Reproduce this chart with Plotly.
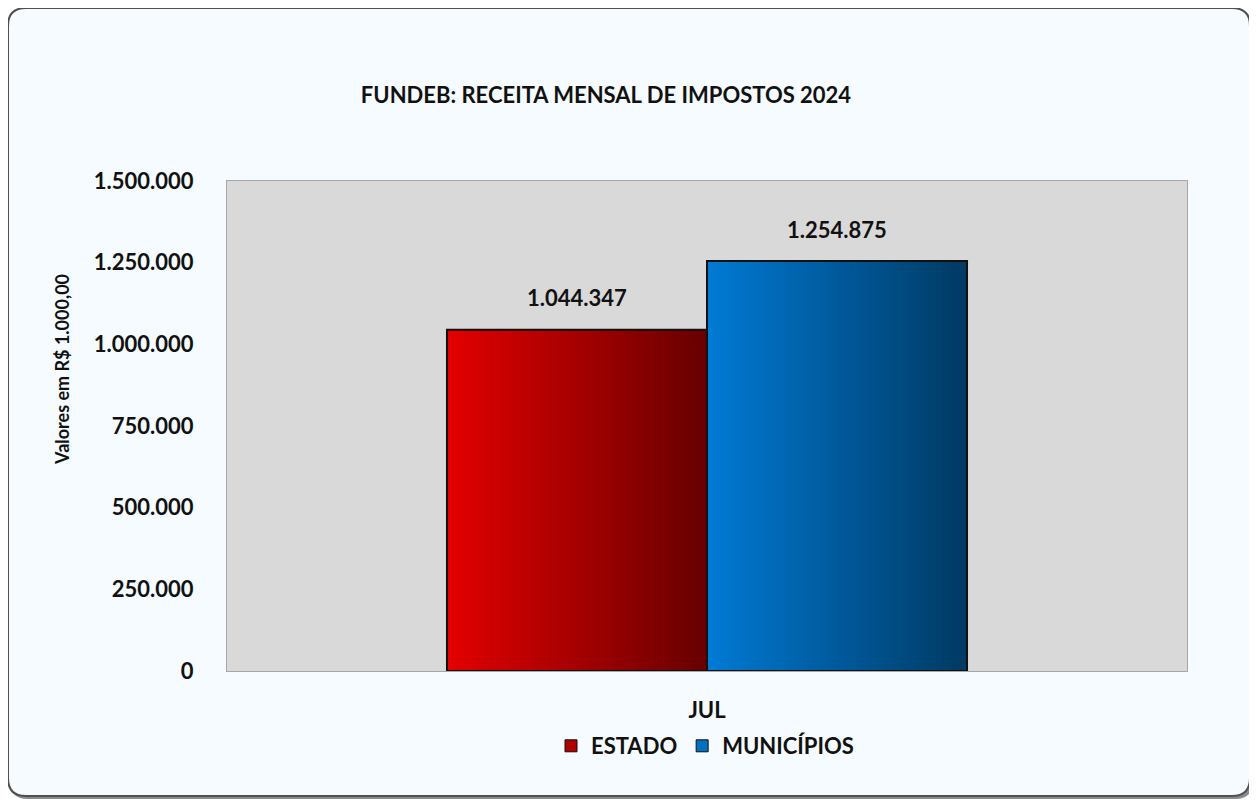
import plotly.graph_objects as go
import numpy as np

# ---- data ----
categories = ["JUL"]
series_names = ["ESTADO", "MUNICÍPIOS"]
estado = [1044347]
municipios = [1254875]
y_ticks = [0, 250000, 500000, 750000, 1000000, 1250000, 1500000]

# ---- layout geometry (page pixels; the page body has an 8px margin) ----
OFF = 8
W, H = 1257 - OFF, 803 - OFF
L, R, T, B = 227, 1187, 181, 671
PW, PH = R - L, B - T

def px_x(px):
    return (px - L) / PW

def px_y(py):
    return (B - py) / PH

FONT = "Lato"
TXT = "#111111"

bar_w = 0.5417
N = 60
series = [
    (series_names[0], estado, -bar_w, ((226, 0, 0), (104, 0, 0)), "#B00000"),
    (series_names[1], municipios, 0.0, ((0, 122, 212), (0, 58, 100)), "#0070C0"),
]

fig = go.Figure()

for name, vals, off, (c0, c1), legcol in series:
    for ci, v in enumerate(vals):
        xs = ci + off + (np.arange(N) + 0.5) * bar_w / N
        cols = []
        for i in range(N):
            t = i / (N - 1)
            c = tuple(int(round(c0[k] + (c1[k] - c0[k]) * t)) for k in range(3))
            cols.append("rgb(%d,%d,%d)" % c)
        fig.add_trace(go.Bar(
            x=xs, y=[v] * N, width=bar_w / N * 1.15,
            marker=dict(color=cols, line=dict(width=0)),
            showlegend=False, hoverinfo="skip",
        ))
    # outline
    fig.add_trace(go.Bar(
        x=[i for i in range(len(vals))], y=vals, width=bar_w, offset=off,
        marker=dict(color="rgba(0,0,0,0)", line=dict(color="#111111", width=2)),
        showlegend=False, hoverinfo="skip",
    ))
    # legend entry
    fig.add_trace(go.Bar(
        x=[None], y=[None], name=name,
        marker=dict(color=legcol, line=dict(color="#111111", width=1)),
    ))

# value labels
for name, vals, off, _, _ in series:
    for ci, v in enumerate(vals):
        lab = f"{v:,}".replace(",", ".")
        fig.add_annotation(
            x=ci + off + bar_w / 2, y=v, xref="x", yref="y", text=lab,
            showarrow=False, yshift=32,
            font=dict(family=FONT, size=22, color=TXT, weight="bold"),
        )

# y-axis title as annotation
fig.add_annotation(
    x=px_x(62), y=px_y(370), xref="paper", yref="paper",
    xanchor="center", yanchor="middle",
    text="Valores em R$ 1.000,00", textangle=-90, showarrow=False,
    font=dict(family=FONT, size=18, color=TXT, weight="bold"),
)

# frame (rounded) + shadow
def rounded(x0, y0, x1, y1, r):
    X = lambda p: px_x(p)
    Y = lambda p: px_y(p)
    return (f"M {X(x0+r)},{Y(y0)} L {X(x1-r)},{Y(y0)} Q {X(x1)},{Y(y0)} {X(x1)},{Y(y0+r)} "
            f"L {X(x1)},{Y(y1-r)} Q {X(x1)},{Y(y1)} {X(x1-r)},{Y(y1)} "
            f"L {X(x0+r)},{Y(y1)} Q {X(x0)},{Y(y1)} {X(x0)},{Y(y1-r)} "
            f"L {X(x0)},{Y(y0+r)} Q {X(x0)},{Y(y0)} {X(x0+r)},{Y(y0)} Z")

fig.add_shape(type="path", path=rounded(10, 10, 1253, 799, 18), xref="paper", yref="paper",
              fillcolor="#8A8A8A", line=dict(width=0), layer="below")
fig.add_shape(type="path", path=rounded(8, 8, 1250, 796, 18), xref="paper", yref="paper",
              fillcolor="#F5FBFE", line=dict(color="#505050", width=2), layer="below")
# plot area background
fig.add_shape(type="rect", x0=0, x1=1, y0=0, y1=1, xref="paper", yref="paper",
              fillcolor="#D9D9D9", line=dict(width=0), layer="below")

fig.update_layout(
    width=W, height=H,
    margin=dict(l=L - OFF, r=W - (R - OFF), t=T - OFF, b=H - (B - OFF), pad=0),
    paper_bgcolor="white",
    plot_bgcolor="#D9D9D9",
    separators=",.",
    barmode="overlay",
    title=dict(
        text="FUNDEB: RECEITA MENSAL DE IMPOSTOS 2024",
        x=(606 - OFF) / W, xanchor="center", xref="container",
        y=1 - (95 - OFF) / H, yanchor="middle", yref="container",
        font=dict(family=FONT, size=22, color=TXT, weight="bold"),
    ),
    xaxis=dict(
        range=[-1, 1], tickvals=list(range(len(categories))), ticktext=categories,
        showgrid=False, zeroline=False, showline=True, mirror=True,
        linecolor="#A6A6A6", linewidth=1, ticks="", ticklabelstandoff=20,
        tickfont=dict(family=FONT, size=22, color=TXT, weight="bold"),
        fixedrange=True,
    ),
    yaxis=dict(
        range=[0, 1500000], tickvals=y_ticks, tickformat=",d",
        showgrid=False, zeroline=False, showline=True, mirror=True,
        linecolor="#A6A6A6", linewidth=1, ticks="", ticklabelstandoff=28,
        tickfont=dict(family=FONT, size=22, color=TXT, weight="bold"),
        fixedrange=True,
    ),
    legend=dict(
        orientation="h", x=px_x(705), xanchor="center", y=px_y(746), yanchor="middle",
        font=dict(family=FONT, size=22, color=TXT, weight="bold"),
        bgcolor="rgba(0,0,0,0)", itemwidth=30, tracegroupgap=0,
    ),
    showlegend=True,
)

fig.write_html("out.html")
